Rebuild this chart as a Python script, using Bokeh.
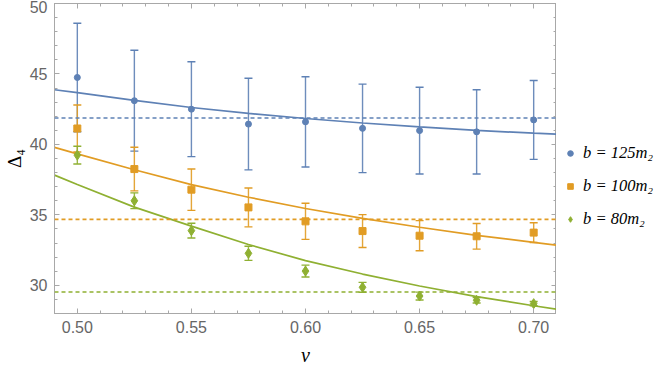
from bokeh.plotting import figure
from bokeh.layouts import row
from bokeh.models import (ColumnDataSource, Whisker, TeeHead, Span, LinearAxis, Legend,
                          LegendItem, Range1d, NumeralTickFormatter, SingleIntervalTicker,
                          CustomJSTickFormatter)
from bokeh.embed import file_html
from bokeh.resources import INLINE

# ---- data ----
v = [0.500, 0.525, 0.550, 0.575, 0.600, 0.625, 0.650, 0.675, 0.700]

blue_y = [44.75, 43.10, 42.50, 41.44, 41.60, 41.14, 40.98, 40.89, 41.74]
blue_err = [3.85, 3.58, 3.37, 3.25, 3.20, 3.14, 3.08, 2.99, 2.80]

orange_y = [41.13, 38.25, 36.79, 35.53, 34.54, 33.85, 33.52, 33.48, 33.74]
orange_err = [1.67, 1.55, 1.47, 1.38, 1.28, 1.17, 1.07, 0.91, 0.70]

green_y = [39.24, 36.00, 33.88, 32.27, 31.01, 29.86, 29.24, 28.94, 28.70]
green_err = [0.63, 0.56, 0.52, 0.50, 0.42, 0.35, 0.28, 0.20, 0.15]

fit_v = [0.49, 0.50, 0.525, 0.55, 0.575, 0.60, 0.625, 0.65, 0.675, 0.70, 0.71]
blue_fit = [43.88, 43.68, 43.12, 42.62, 42.20, 41.84, 41.52, 41.24, 40.99, 40.80, 40.73]
orange_fit = [39.79, 39.33, 38.20, 37.15, 36.25, 35.45, 34.75, 34.12, 33.55, 33.05, 32.85]
green_fit = [37.82, 37.15, 35.55, 34.20, 32.90, 31.75, 30.80, 29.95, 29.20, 28.55, 28.30]

blue_const = 41.87
orange_const = 34.68
green_const = 29.53

labels = ["b = 125m\u2082", "b = 100m\u2082", "b = 80m\u2082"]
x_label = "v"
y_label = "\u0394\u2084"

BLUE = "#5E81B5"
ORANGE = "#E19C24"
GREEN = "#8FB032"
FRAME = "#a8a8a8"
TICKTXT = "#666666"

series = [(blue_y, blue_err, BLUE, "circle", 6, 5),
          (orange_y, orange_err, ORANGE, "square", 7, 6),
          (green_y, green_err, GREEN, "diamond", 10, 8)]

p = figure(frame_width=502, frame_height=310,
           x_range=Range1d(0.49, 0.71), y_range=Range1d(28, 50),
           output_backend="svg", toolbar_location=None,
           min_border_left=45, min_border_top=3, min_border_bottom=49, min_border_right=0,
           background_fill_color="white", border_fill_color="white")
p.grid.visible = False
p.outline_line_color = FRAME


def style_axis(ax, labels_on=True):
    ax.axis_line_color = FRAME
    ax.major_tick_line_color = FRAME
    ax.minor_tick_line_color = FRAME
    ax.major_tick_in = 5
    ax.major_tick_out = 0
    ax.minor_tick_in = 3
    ax.minor_tick_out = 0
    if labels_on:
        ax.major_label_text_font = "Liberation Sans"
        ax.major_label_text_font_size = "16px"
        ax.major_label_text_color = TICKTXT
    else:
        ax.formatter = CustomJSTickFormatter(code="return '';")
        ax.major_label_standoff = 0


xa = p.xaxis[0]
xa.ticker = SingleIntervalTicker(interval=0.05, num_minor_ticks=5)
xa.formatter = NumeralTickFormatter(format="0.00")
style_axis(xa)
xa.major_label_standoff = 7
xa.axis_label = x_label
xa.axis_label_text_font = "Liberation Serif"
xa.axis_label_text_font_style = "italic"
xa.axis_label_text_font_size = "20px"
xa.axis_label_text_color = "black"
xa.axis_label_standoff = 8

ya = p.yaxis[0]
ya.ticker = SingleIntervalTicker(interval=5, num_minor_ticks=5)
ya.formatter = NumeralTickFormatter(format="0")
style_axis(ya)
ya.major_label_standoff = 7
ya.axis_label = y_label
ya.axis_label_text_font = "Liberation Serif"
ya.axis_label_text_font_style = "normal"
ya.axis_label_text_font_size = "19px"
ya.axis_label_text_color = "black"
ya.axis_label_standoff = 2

ta = LinearAxis(ticker=SingleIntervalTicker(interval=0.05, num_minor_ticks=5))
style_axis(ta, labels_on=False)
p.add_layout(ta, "above")
ra = LinearAxis(ticker=SingleIntervalTicker(interval=5, num_minor_ticks=5))
style_axis(ra, labels_on=False)
p.add_layout(ra, "right")

# constant (dashed) lines
for val, col in [(blue_const, BLUE), (orange_const, ORANGE), (green_const, GREEN)]:
    p.add_layout(Span(location=val, dimension="width", line_color=col,
                      line_width=1.6, line_dash="4 3"))

# fit curves
p.line(fit_v, blue_fit, line_color=BLUE, line_width=1.7)
p.line(fit_v, orange_fit, line_color=ORANGE, line_width=1.7)
p.line(fit_v, green_fit, line_color=GREEN, line_width=1.7)

sources = []
for ys, es, col, marker, size, lsize in series:
    src = ColumnDataSource(dict(v=v, y=ys,
                                upper=[a + b for a, b in zip(ys, es)],
                                lower=[a - b for a, b in zip(ys, es)]))
    sources.append(src)
    w = Whisker(base="v", upper="upper", lower="lower", source=src,
                line_color=col, line_width=1.4, line_alpha=0.9,
                upper_head=TeeHead(size=8, line_color=col, line_width=1.4),
                lower_head=TeeHead(size=8, line_color=col, line_width=1.4))
    p.add_layout(w)
    p.scatter("v", "y", source=src, marker=marker, size=size,
              fill_color=col, line_color=col)

# ---- legend panel (separate narrow figure to the right; its ranges keep the
#      series out of view so only the legend shows) ----
lf = figure(width=101, height=362, x_range=Range1d(10, 11), y_range=Range1d(10, 11),
            output_backend="svg", toolbar_location=None,
            min_border_left=0, min_border_right=0, min_border_top=0, min_border_bottom=0,
            x_axis_type=None, y_axis_type=None,
            background_fill_color="white", border_fill_color="white")
lf.grid.visible = False
lf.outline_line_color = None

items = []
for (ys, es, col, marker, size, lsize), lab, src in zip(series, labels, sources):
    r = lf.scatter("v", "y", source=src, marker=marker, size=lsize,
                   fill_color=col, line_color=col)
    items.append(LegendItem(label=lab, renderers=[r]))

legend = Legend(items=items, location=(7, 78))
legend.border_line_color = None
legend.background_fill_alpha = 0
legend.padding = 2
legend.margin = 0
legend.spacing = 13
legend.glyph_width = 14
legend.glyph_height = 20
legend.label_height = 20
legend.label_standoff = 6
legend.label_text_font = "Liberation Serif"
legend.label_text_font_style = "italic"
legend.label_text_font_size = "16.5px"
legend.label_text_color = "black"
lf.add_layout(legend)

layout = row(p, lf)
open("out.html", "w").write(file_html(layout, INLINE))
